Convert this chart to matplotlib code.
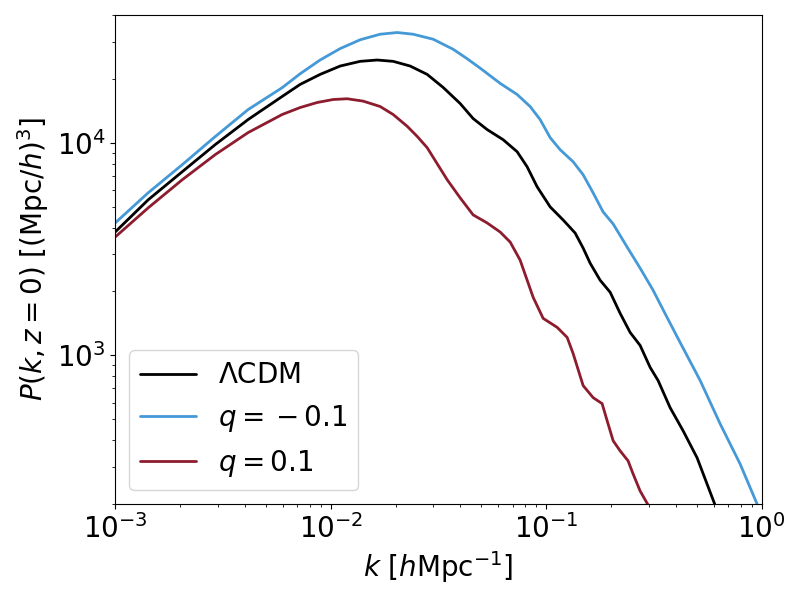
import matplotlib
matplotlib.use("Agg")
import matplotlib.pyplot as plt

# LCDM linear power spectrum
k_lcdm = [0.001, 0.001422, 0.002046, 0.002911, 0.00414, 0.005957, 0.007219,
          0.00894, 0.01107, 0.01371, 0.01644, 0.0195, 0.02338, 0.02804,
          0.03327, 0.0399, 0.04585, 0.05324, 0.06315, 0.07333, 0.08161,
          0.09082, 0.1044, 0.1199, 0.1363, 0.1485, 0.16, 0.178, 0.1982,
          0.2205, 0.2453, 0.273, 0.3041, 0.3309, 0.3762, 0.4322, 0.502, 0.6081]
p_lcdm = [3811, 5399, 7318, 9817, 12890, 16550, 18860, 21020, 23010, 24210,
          24560, 24210, 23010, 21020, 18250, 15330, 13020, 11560, 10360, 9097,
          7727, 6219, 5002, 4342, 3770, 3202, 2720, 2261, 1984, 1579, 1284,
          1115, 877.7, 761.9, 568.1, 442.3, 329.8, 197.8]

# q = -0.1
k_qneg = [0.001, 0.001422, 0.002046, 0.002911, 0.00414, 0.005957, 0.007219,
          0.00894, 0.01107, 0.01371, 0.01697, 0.02035, 0.02415, 0.02992,
          0.03702, 0.04295, 0.04939, 0.06115, 0.07333, 0.08429, 0.09376,
          0.1044, 0.1161, 0.1334, 0.1485, 0.1652, 0.1838, 0.2047, 0.2376,
          0.273, 0.3136, 0.3639, 0.4185, 0.5188, 0.6418, 0.7946, 0.953]
p_qneg = [4203, 5825, 7898, 10710, 14360, 18200, 21170, 24580, 27800, 30590,
          32480, 33080, 32480, 30760, 27590, 24930, 22500, 19080, 16910,
          14840, 12890, 10590, 9298, 8160, 7085, 5825, 4738, 4157, 3237, 2576,
          2028, 1512, 1152, 761.9, 477.3, 308.9, 199.9]

# q = 0.1
k_qpos = [0.001, 0.001422, 0.002046, 0.002911, 0.00414, 0.005957, 0.007219,
          0.008659, 0.01027, 0.01193, 0.01416, 0.01697, 0.0195, 0.02265,
          0.0252, 0.02804, 0.03475, 0.0399, 0.04585, 0.05324, 0.06115,
          0.06808, 0.07573, 0.08703, 0.09685, 0.1125, 0.1252, 0.1334, 0.1485,
          0.1652, 0.1819, 0.1919, 0.2047, 0.2205, 0.2401, 0.2533, 0.273,
          0.2974]
p_qpos = [3609, 4948, 6708, 8807, 11190, 13610, 14680, 15500, 16010, 16140,
          15730, 14840, 13610, 11980, 10740, 9502, 6708, 5516, 4585, 4203,
          3811, 3418, 2810, 1879, 1495, 1356, 1216, 1022, 721.6, 633.3, 593.4,
          493.2, 396.7, 355.8, 319.2, 277.1, 230.3, 197.8]

fig, ax = plt.subplots(figsize=(8, 6), dpi=100)
fig.subplots_adjust(left=0.144, right=0.952, bottom=0.16, top=0.975)

style = dict(lw=2, solid_joinstyle="round", solid_capstyle="round")
ax.loglog(k_lcdm, p_lcdm, color="black", label=r"$\Lambda$CDM", **style)
ax.loglog(k_qneg, p_qneg, color="#4499d6", label=r"$q={}-0.1$", **style)
ax.loglog(k_qpos, p_qpos, color="#8c1c2e", label=r"$q=0.1$", **style)

ax.set_xlim(1e-3, 1)
ax.set_ylim(200, 40000)
ax.set_xlabel(r"$k$ [$h$Mpc$^{-1}$]", fontsize=20)
ax.set_ylabel(r"$P(k, z=0)$ [(Mpc/$h$)$^3$]", fontsize=20)
ax.tick_params(axis="both", which="major", labelsize=20)
ax.legend(loc="lower left", fontsize=20)

fig.savefig("out.png", dpi=100)
